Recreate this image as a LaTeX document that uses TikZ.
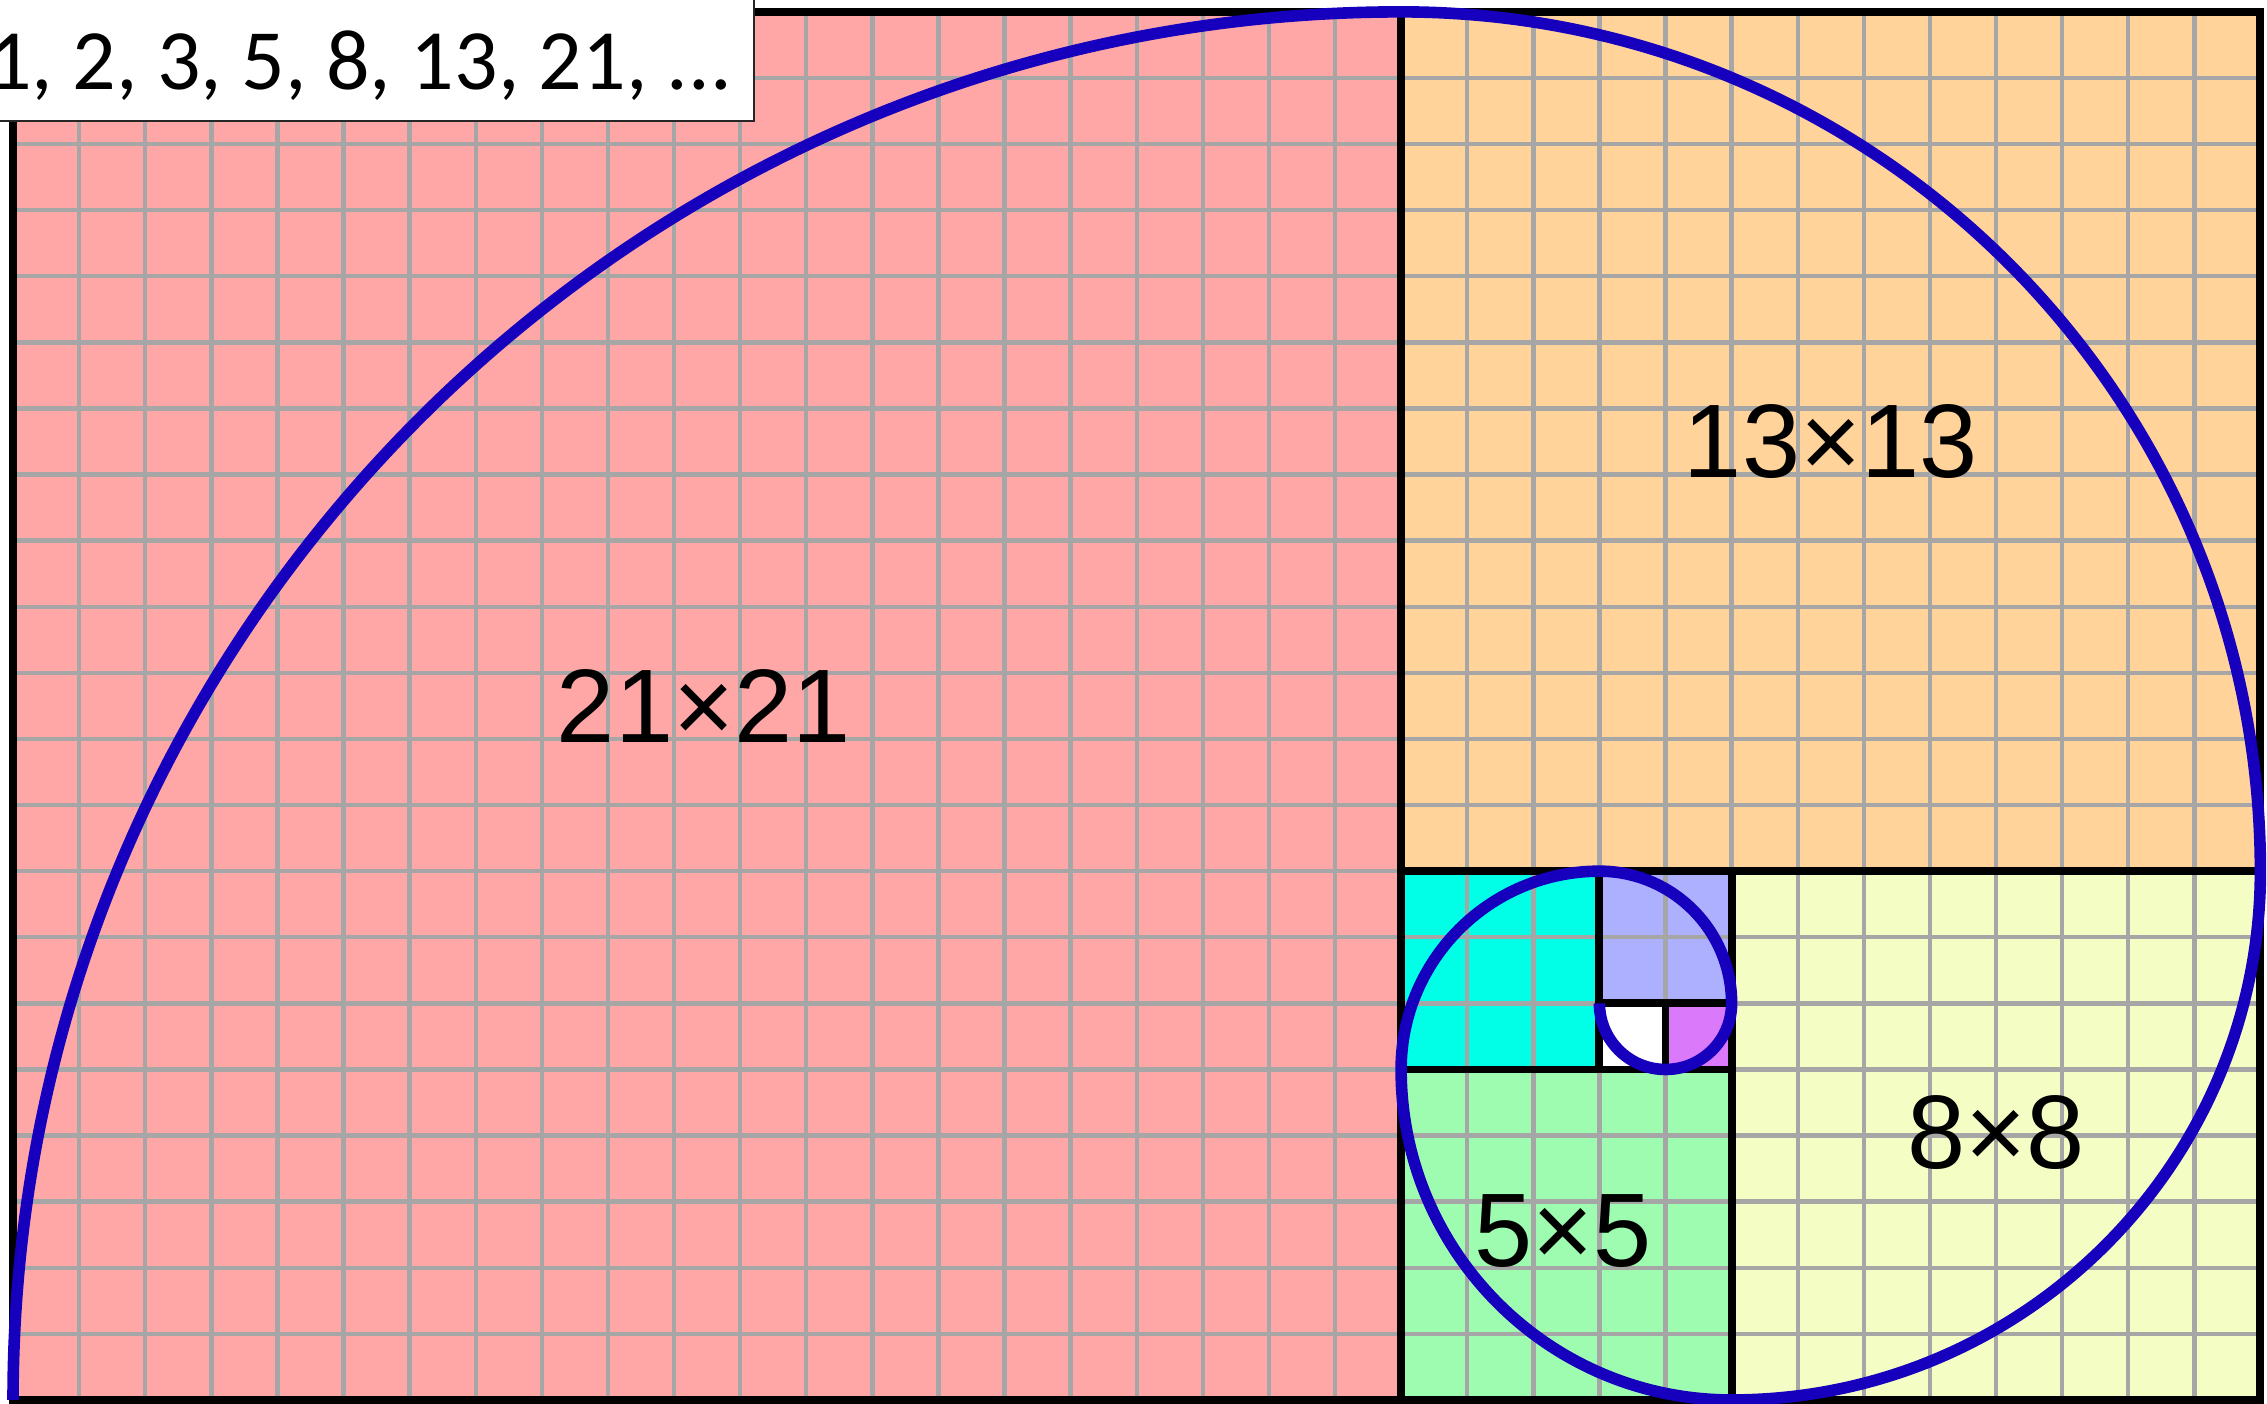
\documentclass[tikz,border=0pt]{standalone}
\usepackage{fontspec}
\setmainfont{Liberation Sans}
\newfontfamily\seqfont{Carlito}
\definecolor{cPink}{HTML}{FFA6A6}
\definecolor{cOrange}{HTML}{FFD39A}
\definecolor{cYellow}{HTML}{F4FDC4}
\definecolor{cGreen}{HTML}{9EFCB0}
\definecolor{cCyan}{HTML}{00FFE6}
\definecolor{cLav}{HTML}{ACB0FF}
\definecolor{cViolet}{HTML}{DA7AFA}
\definecolor{cGrid}{HTML}{A6A6A6}
\definecolor{cSpiral}{HTML}{1600BE}
\begin{document}
\begin{tikzpicture}[
  sq/.style={draw=black, line width=3.4pt},
  gridline/.style={draw=cGrid, line width=1.9pt},
  spiral/.style={draw=cSpiral, line width=5pt},
  lbl/.style={font=\fontsize{45}{50}\selectfont, inner sep=0pt},
  seqbox/.style={fill=white, draw=black!85, line width=1pt}
]
\useasboundingbox (-0.197,-0.0605) rectangle (34.10,21.18);
% fills
\fill[cPink] (0,0) rectangle (21,21);
\fill[cOrange] (21,8) rectangle (34,21);
\fill[cYellow] (26,0) rectangle (34,8);
\fill[cGreen] (21,0) rectangle (26,5);
\fill[cCyan] (21,5) rectangle (24,8);
\fill[cLav] (24,6) rectangle (26,8);
\fill[white] (24,5) rectangle (25,6);
\fill[cViolet] (25,5) rectangle (26,6);
% grid
\draw[gridline] (0,0) grid (34,21);
% square borders
\draw[sq] (0,0) rectangle (21,21);
\draw[sq] (21,8) rectangle (34,21);
\draw[sq] (26,0) rectangle (34,8);
\draw[sq] (21,0) rectangle (26,5);
\draw[sq] (21,5) rectangle (24,8);
\draw[sq] (24,6) rectangle (26,8);
\draw[sq] (24,5) rectangle (25,6);
\draw[sq] (25,5) rectangle (26,6);
\draw[sq] (0,0) rectangle (34,21);
% spiral
\draw[spiral] (0,0) arc[start angle=180, end angle=90, radius=21]
  arc[start angle=90, end angle=0, radius=13]
  arc[start angle=0, end angle=-90, radius=8]
  arc[start angle=270, end angle=180, radius=5]
  arc[start angle=180, end angle=90, radius=3]
  arc[start angle=90, end angle=0, radius=2]
  arc[start angle=0, end angle=-90, radius=1]
  arc[start angle=270, end angle=180, radius=1];
% labels
\node[lbl] (l21) at (10.45,10.5) {21×21};
\node[lbl] (l13) at (27.5,14.5) {13×13};
\node[lbl] (l8) at (30,4.05) {8×8};
\node[lbl] (l5) at (23.45,2.55) {5×5};
% sequence box
\draw[seqbox] (-1,19.35) rectangle (11.21,21.6);
\node[anchor=base east, inner sep=0pt, font=\seqfont\fontsize{37}{40}\selectfont] (seq) at (10.88,19.82) {1, 2, 3, 5, 8, 13, 21, ...};
\end{tikzpicture}
\end{document}
